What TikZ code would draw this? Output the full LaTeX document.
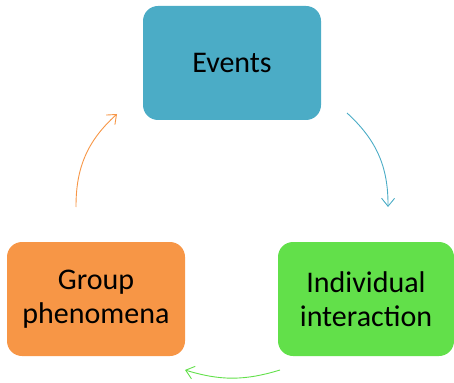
\documentclass[tikz,border=0pt]{standalone}
\usepackage{fontspec}
\setmainfont{Carlito}
\usetikzlibrary{arrows.meta}
\definecolor{eventblue}{RGB}{75,172,198}
\definecolor{grouporange}{RGB}{247,150,70}
\definecolor{indivgreen}{RGB}{98,224,74}

\begin{document}
\begin{tikzpicture}[x=1pt,y=-1pt,
    box/.style={rounded corners=15pt,minimum width=178pt,minimum height=114pt,
      align=center,font=\fontsize{30}{34}\selectfont,text=black},
    >={Straight Barb[length=8pt,width=13pt]}]

    \useasboundingbox (0,0) rectangle (454,382);

\node[box,fill=eventblue] (ev) at (232,63) {Events};
\node[box,fill=grouporange] (gr) at (96,299) {Group\\phenomena};
\node[box,fill=indivgreen,minimum width=176pt] (in) at (366,299) {Individual\\interaction};

\coordinate (evout) at (347,113);
\coordinate (inin) at (388,207);
\coordinate (inout) at (280,370);
\coordinate (grin) at (185,370);
\coordinate (grout) at (76,207);
\coordinate (evin) at (117,114);

\draw[eventblue,line width=0.9pt,->] (evout) to[bend left=24] (inin);
\draw[indivgreen,line width=0.9pt,->] (inout) to[bend left=17] (grin);
\draw[grouporange,line width=0.9pt,->] (grout) to[bend left=24] (evin);

  \end{tikzpicture}
\end{document}
